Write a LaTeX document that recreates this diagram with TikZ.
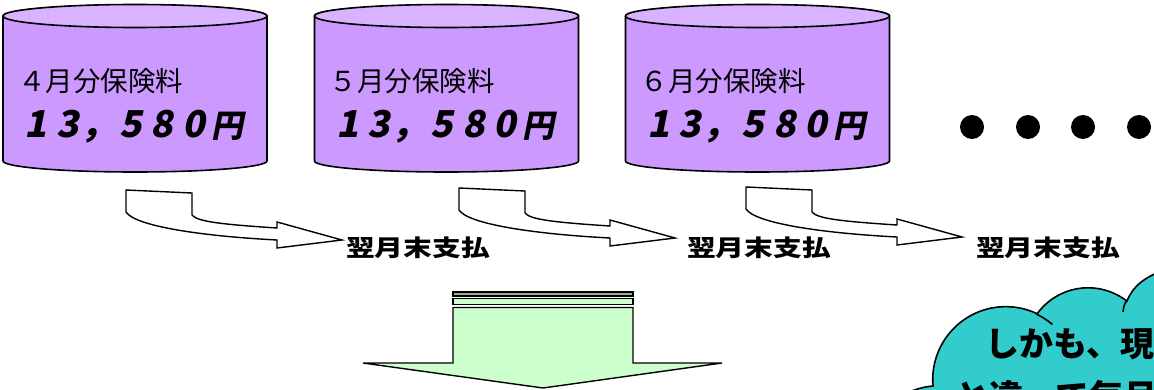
\documentclass[tikz,border=0pt]{standalone}
\usepackage{fontspec}
\newfontfamily\jpb[FakeStretch=1.25]{Noto Sans CJK JP}
\newfontfamily\jpi[FakeSlant=0.2]{Noto Sans CJK JP}
\newfontfamily\jp{Noto Sans CJK JP}
\definecolor{cylbody}{HTML}{CC99FF}
\definecolor{cyltop}{HTML}{D9B3FF}
\definecolor{cloudc}{HTML}{33CCCC}
\definecolor{garrow}{HTML}{CCFFCC}
\definecolor{gbar}{HTML}{8FAF8F}
\tikzset{
  cylbox/.style={draw=black, line width=1.6pt, fill=cylbody, line join=round},
  cyltopst/.style={draw=black, line width=1.6pt, fill=cyltop},
  monthtxt/.style={anchor=west, inner sep=0pt, font=\jp\fontsize{27.5}{30}\selectfont},
  amounttxt/.style={anchor=west, inner sep=0pt, font=\jpi\bfseries\fontsize{37}{40}\selectfont},
  paytxt/.style={anchor=west, inner sep=0pt, font=\jpb\bfseries\fontsize{23}{26}\selectfont},
  curvarrow/.style={draw=black, line width=1.4pt, fill=white, line join=miter},
  downarrow/.style={draw=black, line width=1.4pt, fill=garrow},
  cloudst/.style={draw=black, line width=1.6pt, fill=cloudc},
  cloudtxt/.style={anchor=west, inner sep=0pt, font=\jp\bfseries\fontsize{34}{40}\selectfont},
  dotst/.style={circle, fill=black, inner sep=0pt, minimum size=24pt}
}
\newcommand\amcell[1]{\makebox[31.5pt][c]{#1}}
\newcommand\amount{\amcell{1}\amcell{3}\amcell{，}\amcell{5}\amcell{8}\amcell{0}\hspace{2pt}{\fontsize{32}{36}\selectfont 円}}
\newcommand\mycyl[4]{% center x, name, month text, amount text
  \path[cylbox] (#1-132,16) -- (#1-132,161)
     arc[start angle=180, end angle=0, x radius=132, y radius=11]
     -- (#1+132,16)
     arc[start angle=0, end angle=-180, x radius=132, y radius=11] -- cycle;
  \draw[cyltopst] (#1,16) ellipse[x radius=132, y radius=11.5];
  \node[monthtxt] (#2m) at (#1-117,81) {#3};
  \node[amounttxt] (#2a) at (#1-115,127) {#4};
}
\newcommand\mycurv{%
  \path[curvarrow] (126,190) -- (192,193) -- (192,215)
     .. controls (197,221) and (215,224) .. (277,228)
     -- (277,222) -- (342,240) -- (277,248) -- (277,240)
     .. controls (200,236) and (135,226) .. (126,212) -- cycle;
}
\begin{document}
\begin{tikzpicture}[x=1pt, y=-1pt]
\useasboundingbox (0,0) rectangle (1154,390);
\fill[white] (0,0) rectangle (1154,390);

% cylinders
\mycyl{135}{c1}{４月分保険料}{\amount}
\mycyl{446.5}{c2}{５月分保険料}{\amount}
\mycyl{757.5}{c3}{６月分保険料}{\amount}

% dots
\node[dotst] (d1) at (972,127) {};
\node[dotst] (d2) at (1028,127) {};
\node[dotst] (d3) at (1083,127) {};
\node[dotst] (d4) at (1139,127) {};

% curved arrows
\begin{scope}\mycurv\end{scope}
\begin{scope}[shift={(333,-2)}]\mycurv\end{scope}
\begin{scope}[shift={(620,-3)}]\mycurv\end{scope}

% labels
\node[paytxt] (p1) at (346,248) {翌月末支払};
\node[paytxt] (p2) at (687,248) {翌月末支払};
\node[paytxt] (p3) at (976,248) {翌月末支払};

% big down arrow
\draw[line width=1.2pt, fill=gbar] (453,292) rectangle (633,296);
\draw[line width=1.2pt, fill=garrow] (453,298.5) rectangle (633,304.5);
\path[downarrow] (453,307.5) -- (633,307.5) -- (633,363) -- (722,363)
   -- (543,388) -- (363,363) -- (453,363) -- cycle;

% cloud
\path[cloudst] (895,402) .. controls (905,392) and (920,387) .. (933,386)
   arc[start angle=175, end angle=295.5, radius=73]
   arc[start angle=216, end angle=308, radius=63]
   .. controls (1133,286) and (1145,276) .. (1170,268)
   -- (1170,402) -- cycle;
\draw[line width=1.6pt] (1005,380) ++(295.5:73) arc[start angle=295.5, end angle=310.5, radius=73];
\draw[line width=1.6pt] (1127,300) .. controls (1124,305) .. (1123,312);
\node[cloudtxt] (t1) at (985,344) {しかも、現};
\node[cloudtxt] (t2) at (955,397) {と違って毎月};
\end{tikzpicture}
\end{document}
